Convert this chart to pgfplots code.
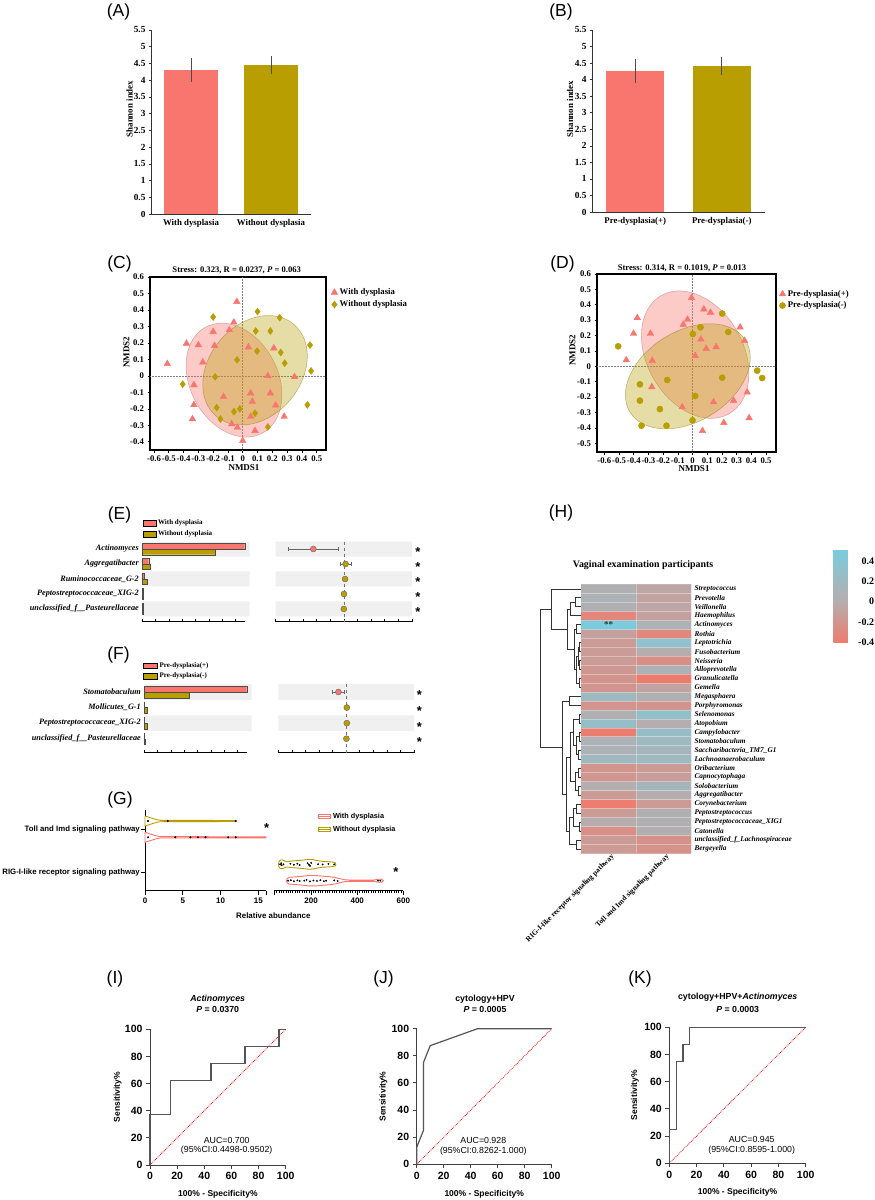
\documentclass[border=0pt]{standalone}
\usepackage{fontspec}
\setmainfont{Liberation Serif}
\setsansfont{Liberation Sans}
\usepackage{pgfplots}
\pgfplotsset{compat=1.18}
\usetikzlibrary{calc}
\definecolor{cred}{HTML}{F8766D}
\definecolor{cgold}{HTML}{B89E00}
\definecolor{band}{HTML}{F0F0F0}
\definecolor{roc}{HTML}{555555}
\newcommand{\fs}[1]{\fontsize{#1}{#1}\selectfont}
\tikzset{star/.style={font=\sffamily\bfseries\fs{13}, yshift=-3.5pt}}
\pgfplotsset{/pgf/number format/assume math mode=true,
  dg/.style={black!80, line width=0.55pt, forget plot},
  rocaxis/.style={anchor=south west, scale only axis, xmin=0, xmax=100, ymin=0, ymax=100,
    axis lines*=left, axis line style={line width=1pt, black!75},
    xtick={0,20,40,60,80,100}, ytick={0,20,40,60,80,100},
    tick align=outside, major tick length=4pt, tick style={line width=1pt, black!75},
    tick label style={font=\sffamily\bfseries\fs{10.5}}, clip=false},
  nmds/.style={anchor=south west, scale only axis, axis line style={line width=1.1pt},
    xtick={-0.6,-0.5,-0.4,-0.3,-0.2,-0.1,0,0.1,0.2,0.3,0.4,0.5},
    tick pos=left, tick align=outside, major tick length=2.5pt,
    tick style={line width=0.6pt, black}, tick label style={font=\bfseries\fs{8.7}},
    xticklabel style={inner xsep=0pt}},
  shannon/.style={anchor=south west, scale only axis, ymin=0, ymax=5.5, xmin=-0.5, xmax=1.5,
    axis x line*=bottom, axis y line*=left, axis line style={line width=0.9pt, black!80},
    xtick={0,1}, xtick style={draw=none},
    ytick={0,0.5,1,1.5,2,2.5,3,3.5,4,4.5,5,5.5},
    ytick style={line width=0.6pt, black!80}, tick align=outside, major tick length=2pt,
    yticklabel style={font=\bfseries\fs{9.3}}, xticklabel style={font=\bfseries\fs{8.8}}},
  barl/.style={anchor=south west, scale only axis, xmin=0,
    axis x line*=bottom, axis y line*=left, y axis line style={draw=none},
    x axis line style={line width=0.9pt}, xtick={0,1,2,3,4,5,6,7}, xticklabels={},
    tick align=inside, major tick length=2.5pt, xtick style={line width=0.5pt, black},
    ytick style={draw=none}, yticklabel style={font=\bfseries\itshape\fs{8.2}}, clip=false},
  barr/.style={anchor=south west, scale only axis, xmin=-5, xmax=5,
    axis x line*=bottom, axis y line=none, x axis line style={line width=0.9pt},
    xtick={-5,-4,-3,-2,-1,0,1,2,3,4,5}, xticklabels={}, tick align=inside, major tick length=2.5pt,
    xtick style={line width=0.5pt, black}, clip=false},
  ebar/.style={only marks, mark=*, mark size=3pt,
    error bars/x dir=both, error bars/x explicit, error bars/error bar style={black!60, line width=0.5pt},
    error bars/error mark options={rotate=90, mark size=2.2pt, black!60}}
}
\begin{document}
\begin{tikzpicture}
\useasboundingbox (0,0) rectangle (875pt,-1200pt);
\fill[white] (0,0) rectangle (875pt,-1200pt);

% ---------- panel letters ----------
\begin{scope}[every node/.style={font=\sffamily\fs{17.5}}]
\node at (118.5pt,-12pt) {(A)};
\node at (561pt,-12pt) {(B)};
\node at (119.5pt,-263.5pt) {(C)};
\node at (562.5pt,-263.5pt) {(D)};
\node at (119.5pt,-514.5pt) {(E)};
\node at (118.5pt,-655pt) {(F)};
\node at (120pt,-799.5pt) {(G)};
\node at (561pt,-512.5pt) {(H)};
\node at (115pt,-978.5pt) {(I)};
\node at (383.5pt,-979pt) {(J)};
\node at (640pt,-978.5pt) {(K)};
\end{scope}

% ---------- A ----------
\begin{axis}[shannon, at={(151pt,-214pt)}, width=160pt, height=184pt,
  xticklabels={With dysplasia,Without dysplasia}]
\addplot[ybar, bar shift=0pt, bar width=54pt, fill=cred, draw=none,
  error bars/.cd, y dir=both, y explicit, error mark=none,
  error bar style={line width=0.6pt, black!70}] coordinates {(0,4.3) +- (0,0.36)};
\addplot[ybar, bar shift=0pt, bar width=54pt, fill=cgold, draw=none,
  error bars/.cd, y dir=both, y explicit, error mark=none,
  error bar style={line width=0.6pt, black!70}] coordinates {(1,4.45) +- (0,0.27)};
\end{axis}
\node[rotate=90, font=\bfseries\fs{8.9}] at (129.5pt,-109pt) {Shannon index};

% ---------- B ----------
\begin{axis}[shannon, at={(592pt,-212pt)}, width=173pt, height=182pt,
  xticklabels={Pre-dysplasia(+),Pre-dysplasia(-)}]
\addplot[ybar, bar shift=0pt, bar width=58pt, fill=cred, draw=none,
  error bars/.cd, y dir=both, y explicit, error mark=none,
  error bar style={line width=0.6pt, black!70}] coordinates {(0,4.27) +- (0,0.36)};
\addplot[ybar, bar shift=0pt, bar width=58pt, fill=cgold, draw=none,
  error bars/.cd, y dir=both, y explicit, error mark=none,
  error bar style={line width=0.6pt, black!70}] coordinates {(1,4.42) +- (0,0.27)};
\end{axis}
\node[rotate=90, font=\bfseries\fs{8.9}] at (570pt,-109pt) {Shannon index};

% ---------- C ----------
\begin{axis}[nmds, at={(150pt,-450pt)}, width=176pt, height=173pt,
  xmin=-0.627, xmax=0.563, ymin=-0.45, ymax=0.6,
  ytick={-0.4,-0.3,-0.2,-0.1,0,0.1,0.2,0.3,0.4,0.5,0.6},
  legend style={at={(1.028,0.945)}, anchor=north west, draw=none, fill=none,
    font=\bfseries\fs{8.7}, legend cell align=left, row sep=0.5pt, inner sep=0pt},
  legend image code/.code={\draw[#1] plot coordinates {(3pt,0pt)};}]
\addplot[gray, densely dotted, line width=0.5pt, forget plot] coordinates {(0,-0.45)(0,0.6)};
\addplot[gray, densely dotted, line width=0.5pt, forget plot] coordinates {(-0.627,0)(0.563,0)};
\draw[fill=cred, fill opacity=0.38, draw=cred!70!black, draw opacity=0.45, line width=0.5pt,
  rotate around={28:(axis cs:-0.059,-0.026)}] (axis cs:-0.059,-0.026) ellipse [x radius=0.297, y radius=0.365];
\draw[fill=cgold, fill opacity=0.35, draw=cgold!70!black, draw opacity=0.5, line width=0.5pt,
  rotate around={-40:(axis cs:0.083,0.034)}] (axis cs:0.083,0.034) ellipse [x radius=0.311, y radius=0.365];
\addplot[only marks, mark=triangle*, mark size=3.8pt, mark options={fill=cred, draw=cred}] coordinates {
(-0.04,0.45)(-0.06,0.325)(-0.09,0.278)(-0.2,0.268)(-0.38,0.197)(-0.3,0.187)(-0.19,0.183)(-0.27,0.083)(-0.51,0.073)(-0.33,-0.055)(-0.33,-0.176)(-0.34,-0.262)(-0.13,-0.126)(-0.075,-0.292)(-0.036,-0.314)(0,-0.394)(0.038,0.174)(0.21,0.168)(0.17,0)(0.35,-0.006)(0.054,-0.105)(0.187,-0.105)(0.065,-0.156)(0.223,-0.178)(0.054,-0.247)(0.28,-0.247)(0.083,-0.333)};
\addplot[only marks, mark=diamond*, mark size=3.5pt, mark options={fill=cgold, draw=cgold}] coordinates {
(-0.2,0.357)(0.1,0.39)(0.25,0.353)(0.088,0.272)(0.187,0.272)(0.455,0.187)(0.097,0.15)(0.257,0.142)(0.284,0.077)(-0.038,0.097)(0.462,0.03)(-0.187,-0.006)(-0.406,-0.05)(-0.176,-0.193)(-0.059,-0.217)(-0.02,-0.2)(0.083,-0.227)(-0.151,-0.262)(0.17,-0.31)(0.437,-0.176)};
\legend{With dysplasia, Without dysplasia}
\end{axis}
\node[font=\bfseries\fs{8.6}] at (236.7pt,-270.7pt) {Stress: 0.323, R = 0.0237, \textit{P} = 0.063};
\node[rotate=90, font=\bfseries\fs{9}] at (126.5pt,-352pt) {NMDS2};
\node[font=\bfseries\fs{9}] at (244pt,-468pt) {NMDS1};

% ---------- D ----------
\begin{axis}[nmds, at={(597pt,-452pt)}, width=179pt, height=178pt,
  xmin=-0.65, xmax=0.568, ymin=-0.557, ymax=0.6,
  ytick={-0.5,-0.4,-0.3,-0.2,-0.1,0,0.1,0.2,0.3,0.4,0.5,0.6},
  legend style={at={(1.017,0.921)}, anchor=north west, draw=none, fill=none,
    font=\bfseries\fs{8.7}, legend cell align=left, row sep=0pt, inner sep=0pt},
  legend image code/.code={\draw[#1] plot coordinates {(3pt,0pt)};}]
\addplot[gray, densely dotted, line width=0.5pt, forget plot] coordinates {(0,-0.557)(0,0.6)};
\addplot[gray, densely dotted, line width=0.5pt, forget plot] coordinates {(-0.65,0)(0.568,0)};
\draw[fill=cred, fill opacity=0.38, draw=cred!70!black, draw opacity=0.45, line width=0.5pt,
  rotate around={30:(axis cs:0.018,0.076)}] (axis cs:0.018,0.076) ellipse [x radius=0.327, y radius=0.443];
\draw[fill=cgold, fill opacity=0.35, draw=cgold!70!black, draw opacity=0.5, line width=0.5pt,
  rotate around={32:(axis cs:-0.032,-0.065)}] (axis cs:-0.032,-0.065) ellipse [x radius=0.463, y radius=0.293];
\addplot[only marks, mark=triangle*, mark size=3.8pt, mark options={fill=cred, draw=cred}] coordinates {
(-0.007,0.445)(0.077,0.371)(0.122,0.349)(-0.376,0.315)(-0.034,0.304)(-0.063,0.271)(-0.401,0.213)(-0.286,0.213)(0.324,0.254)(0.354,0.167)(0.057,0.176)(0.161,0.126)(0.093,0.115)(0.018,0.069)(-0.451,0.041)(-0.274,0.037)(-0.277,-0.134)(0.372,-0.169)(0.279,-0.223)(0.143,-0.232)(-0.07,-0.265)(0.385,-0.336)(0.213,-0.367)(0.068,-0.419)};
\addplot[only marks, mark=*, mark size=3.1pt, mark options={fill=cgold, draw=cgold}] coordinates {
(-0.506,0.13)(0.202,0.343)(0.054,0.254)(0.243,0.223)(0.002,0.21)(0.44,-0.028)(0.474,-0.076)(0.202,-0.074)(-0.172,-0.089)(-0.358,-0.117)(-0.358,-0.223)(0.018,-0.193)(-0.222,-0.278)(-0.347,-0.386)(-0.177,-0.386)(0,-0.351)};
\legend{Pre-dysplasia(+), Pre-dysplasia(-)}
\end{axis}
\node[font=\bfseries\fs{8.6}] at (682pt,-268.3pt) {Stress: 0.314, R = 0.1019, \textit{P} = 0.013};
\node[rotate=90, font=\bfseries\fs{9}] at (572.5pt,-350pt) {NMDS2};
\node[font=\bfseries\fs{9}] at (694pt,-468.5pt) {NMDS1};

% ---------- E ----------
\begin{axis}[barl, at={(142.3pt,-621.7pt)}, width=102.7pt, height=80.2pt,
  xmax=7.7, ymin=-5.85, ymax=-0.5,
  ytick={-1,-2,-3,-4,-5},
  yticklabels={Actinomyces,Aggregatibacter,Ruminococcaceae\_G-2,Peptostreptococcaceae\_XIG-2,unclassified\_f\_\_Pasteurellaceae},
  legend style={at={(0.002,1.295)}, anchor=north west, draw=none, fill=none, inner sep=0pt,
    row sep=0.5pt, font=\bfseries\fs{7}, legend cell align=left},
  legend image code/.code={\fill[#1] (0pt,-2.8pt) rectangle (13pt,2.8pt);}]
\addplot[fill=band, draw=none, forget plot] coordinates {(0,-0.5)(8.05,-0.5)(8.05,-1.5)(0,-1.5)(0,-0.5)};
\addplot[fill=band, draw=none, forget plot] coordinates {(0,-2.5)(8.05,-2.5)(8.05,-3.5)(0,-3.5)(0,-2.5)};
\addplot[fill=band, draw=none, forget plot] coordinates {(0,-4.5)(8.05,-4.5)(8.05,-5.5)(0,-5.5)(0,-4.5)};
\addplot[forget plot, xbar, bar shift=0pt, bar width=5.7pt, fill=cred, draw=black!70, line width=0.4pt] coordinates {(7.68,-0.81)(0.48,-1.81)(0.15,-2.81)(0.03,-3.81)(0.03,-4.81)};
\addplot[forget plot, xbar, bar shift=0pt, bar width=5.7pt, fill=cgold, draw=black!70, line width=0.4pt] coordinates {(5.48,-1.19)(0.6,-2.19)(0.35,-3.19)(0.03,-4.19)(0.03,-5.19)};
\addlegendimage{fill=cred}\addlegendentry{With dysplasia}
\addlegendimage{fill=cgold}\addlegendentry{Without dysplasia}
\end{axis}
\begin{axis}[barr, at={(275.7pt,-621.7pt)}, width=136.3pt, height=80.2pt, ymin=-5.85, ymax=-0.5]
\addplot[fill=band, draw=none] coordinates {(-5,-0.5)(5,-0.5)(5,-1.5)(-5,-1.5)(-5,-0.5)};
\addplot[fill=band, draw=none] coordinates {(-5,-2.5)(5,-2.5)(5,-3.5)(-5,-3.5)(-5,-2.5)};
\addplot[fill=band, draw=none] coordinates {(-5,-4.5)(5,-4.5)(5,-5.5)(-5,-5.5)(-5,-4.5)};
\addplot[black!55, dashed, line width=0.5pt] coordinates {(0,-0.5)(0,-5.85)};
\addplot[ebar, mark options={fill=cred, draw=black!60, line width=0.4pt}] coordinates {(-2.24,-1) +- (1.85,0)};
\addplot[ebar, mark options={fill=cgold, draw=black!60, line width=0.4pt}] coordinates {(0.13,-2) +- (0.4,0) (0.09,-3) +- (0.1,0) (0.01,-4) +- (0.05,0) (0,-5) +- (0.05,0)};
\node[star] at (axis cs:5.44,-1) {*};
\node[star] at (axis cs:5.44,-2) {*};
\node[star] at (axis cs:5.44,-3) {*};
\node[star] at (axis cs:5.44,-4) {*};
\node[star] at (axis cs:5.44,-5) {*};
\end{axis}

% ---------- F ----------
\begin{axis}[barl, at={(144.3pt,-752.7pt)}, width=102.4pt, height=68.5pt,
  xmax=7.68, ymin=-4.9, ymax=-0.5,
  ytick={-1,-2,-3,-4},
  yticklabels={Stomatobaculum,Mollicutes\_G-1,Peptostreptococcaceae\_XIG-2,unclassified\_f\_\_Pasteurellaceae},
  legend style={at={(-0.013,1.346)}, anchor=north west, draw=none, fill=none, inner sep=0pt,
    row sep=0pt, font=\bfseries\fs{7}, legend cell align=left},
  legend image code/.code={\fill[#1] (0pt,-2.6pt) rectangle (14pt,2.6pt);}]
\addplot[fill=band, draw=none, forget plot] coordinates {(0,-0.5)(8.05,-0.5)(8.05,-1.5)(0,-1.5)(0,-0.5)};
\addplot[fill=band, draw=none, forget plot] coordinates {(0,-2.5)(8.05,-2.5)(8.05,-3.5)(0,-3.5)(0,-2.5)};
\addplot[forget plot, xbar, bar shift=0pt, bar width=5.8pt, fill=cred, draw=black!70, line width=0.4pt] coordinates {(7.68,-0.81)(0.02,-1.81)(0.02,-2.81)(0.02,-3.81)};
\addplot[forget plot, xbar, bar shift=0pt, bar width=5.8pt, fill=cgold, draw=black!70, line width=0.4pt] coordinates {(3.4,-1.19)(0.2,-2.19)(0.2,-3.19)(0.05,-4.19)};
\addlegendimage{fill=cred}\addlegendentry{Pre-dysplasia(+)}
\addlegendimage{fill=cgold}\addlegendentry{Pre-dysplasia(-)}
\end{axis}
\begin{axis}[barr, at={(278.3pt,-752.7pt)}, width=135.7pt, height=68.5pt, ymin=-4.9, ymax=-0.5]
\addplot[fill=band, draw=none] coordinates {(-5,-0.5)(5,-0.5)(5,-1.5)(-5,-1.5)(-5,-0.5)};
\addplot[fill=band, draw=none] coordinates {(-5,-2.5)(5,-2.5)(5,-3.5)(-5,-3.5)(-5,-2.5)};
\addplot[black!55, dashed, line width=0.5pt] coordinates {(0,-0.5)(0,-4.9)};
\addplot[ebar, mark options={fill=cred, draw=black!60, line width=0.4pt}] coordinates {(-0.57,-1) +- (0.43,0)};
\addplot[ebar, mark options={fill=cgold, draw=black!60, line width=0.4pt}] coordinates {(0.05,-2) +- (0.08,0) (0.05,-3) +- (0.08,0) (0.02,-4) +- (0.05,0)};
\node[star] at (axis cs:5.39,-1) {*};
\node[star] at (axis cs:5.39,-2) {*};
\node[star] at (axis cs:5.39,-3) {*};
\node[star] at (axis cs:5.39,-4) {*};
\end{axis}

% ---------- G ----------
\begin{axis}[at={(145pt,-890.7pt)}, anchor=south west, scale only axis, width=121pt, height=80.7pt,
  xmin=0, xmax=16, ymin=0, ymax=80.7, axis x line*=bottom, axis y line*=left,
  axis line style={line width=0.8pt},
  xtick={0,5,10,15}, extra x ticks={16}, extra x tick labels={},
  ytick={18,61.4}, yticklabels={RIG-I-like receptor signaling pathway,Toll and Imd signaling pathway},
  tick align=outside, major tick length=4pt, tick style={line width=0.8pt, black},
  xticklabel style={font=\sffamily\bfseries\fs{8}},
  yticklabel style={font=\sffamily\bfseries\fs{7.8}, inner xsep=1pt}, clip=false]
\addplot[draw=cgold, line width=0.9pt, fill=white] coordinates {(0,74.7)(0.5,73.5)(1,72.3)(1.5,71.1)(2,70.4)(12,70.2)(12,69.2)(2,69.0)(1.5,68.3)(1,67.1)(0.5,65.9)(0,64.7)(0,74.7)};
\addplot[draw=cred, line width=0.9pt, fill=white] coordinates {(0,58.4)(0.5,57.2)(1,56.0)(1.5,54.8)(2,54.1)(16,53.9)(16,52.9)(2,52.7)(1.5,52.0)(1,50.8)(0.5,49.6)(0,48.4)(0,58.4)};
\addplot[only marks, mark=*, mark size=0.8pt, black] coordinates {(0.4,69.7)(3,69.7)(12,69.7)(0.4,53.4)(4,53.4)(6,53.4)(7,53.4)(8,53.4)(11,53.4)(12,53.4)};
\end{axis}
\begin{axis}[at={(274.3pt,-890.7pt)}, anchor=south west, scale only axis, width=129pt, height=80.7pt,
  xmin=40, xmax=600, ymin=0, ymax=80.7, axis x line*=bottom, axis y line=none,
  axis line style={line width=0.8pt},
  xtick={200,400,600}, extra x ticks={40}, extra x tick labels={},
  minor xtick={50,60,...,590},
  tick align=outside, major tick length=4pt, minor tick length=2.2pt, tick style={line width=0.6pt, black},
  xticklabel style={font=\sffamily\bfseries\fs{8}}, clip=false,
  legend style={at={(0.339,0.988)}, anchor=north west, draw=none, fill=none, inner sep=0pt,
    row sep=2pt, font=\sffamily\bfseries\fs{7.3}, legend cell align=left},
  legend image code/.code={\draw[#1] (0pt,-1.8pt) rectangle (12pt,1.8pt); \draw[#1] (0pt,0pt) -- (12pt,0pt);}]
\addplot[forget plot, draw=cgold, line width=0.9pt, fill=white] coordinates {(58,26.4)(60,28.9)(66,30.6)(75,30.8)(84,29.9)(92,29.0)(100,29.2)(120,29.8)(145,30.2)(170,30.8)(190,31.4)(210,31.0)(230,30.0)(250,29.3)(275,29.0)(295,28.6)(305,27.9)(307,26.4)(305,24.9)(295,24.2)(275,23.8)(250,23.5)(230,22.8)(210,21.8)(190,21.4)(170,22.0)(145,22.6)(120,23.0)(100,23.6)(92,23.8)(84,22.9)(75,22.0)(66,22.2)(60,23.9)(58,26.4)};
\addplot[forget plot, draw=cred, line width=0.9pt, fill=white] coordinates {(93,10)(96,12.2)(105,13.4)(130,13.8)(160,14.4)(190,15.2)(220,15.2)(250,14.6)(280,14.0)(305,13.2)(325,12.0)(345,11.0)(370,10.6)(470,10.6)(490,11.4)(505,11.6)(514,10)(505,8.4)(490,8.6)(470,9.4)(370,9.4)(345,9.0)(325,8.0)(305,6.8)(280,6.0)(250,5.4)(220,4.8)(190,4.8)(160,5.6)(130,6.2)(105,6.6)(96,7.8)(93,10)};
\addplot[forget plot, only marks, mark=*, mark size=0.7pt, black] coordinates {(65,26.4)(70,27.5)(72,25.5)(80,26.4)(110,27)(125,26)(140,27)(150,25.8)(185,27.5)(190,26)(195,24.8)(200,27.8)(230,26.5)(250,26.2)(275,26.8)(300,26.4)
(100,10)(112,10.5)(125,9.5)(140,10.3)(150,9.7)(170,10)(180,10.8)(195,9.4)(210,10.2)(225,9.8)(240,10.5)(255,9.5)(265,10)(300,10.3)(315,9.7)(490,10)(500,10)};
\addlegendimage{draw=cred, line width=0.8pt}\addlegendentry{With dysplasia}
\addlegendimage{draw=cgold, line width=0.8pt}\addlegendentry{Without dysplasia}
\end{axis}
\node[font=\sffamily\bfseries\fs{13}] at (266.7pt,-828pt) {*};
\node[font=\sffamily\bfseries\fs{13}] at (396pt,-872pt) {*};
\node[font=\sffamily\bfseries\fs{7.9}] at (273.3pt,-916pt) {Relative abundance};

% ---------- H ----------
\node[font=\bfseries\fs{9.9}] at (643pt,-565pt) {Vaginal examination participants};
\begin{axis}[at={(581pt,-853.3pt)}, anchor=south west, scale only axis,
  width=110pt, height=269pt, xmin=-0.5, xmax=1.5, ymin=-30.5, ymax=-0.5,
  axis on top, axis line style={draw=none}, tick style={draw=none},
  minor xtick={0.5},
  minor ytick={-29.5,-28.5,-27.5,-26.5,-25.5,-24.5,-23.5,-22.5,-21.5,-20.5,-19.5,-18.5,-17.5,-16.5,-15.5,-14.5,-13.5,-12.5,-11.5,-10.5,-9.5,-8.5,-7.5,-6.5,-5.5,-4.5,-3.5,-2.5,-1.5},
  xminorgrids=true, yminorgrids=true,
  minor grid style={white, opacity=0.35, line width=0.5pt},
  xtick={0,1}, xticklabels={RIG-I-like receptor signaling pathway,Toll and Imd signaling pathway},
  xticklabel style={xshift=7pt, rotate=45, anchor=east, font=\bfseries\fs{7.4}},
  ytick={-30,-29,-28,-27,-26,-25,-24,-23,-22,-21,-20,-19,-18,-17,-16,-15,-14,-13,-12,-11,-10,-9,-8,-7,-6,-5,-4,-3,-2,-1},
  yticklabels={Bergeyella,unclassified\_f\_Lachnospiraceae,Catonella,Peptostreptococcaceae\_XIG1,Peptostreptococcus,Corynebacterium,Aggregatibacter,Solobacterium,Capnocytophaga,Oribacterium,Lachnoanaerobaculum,Saccharibacteria\_TM7\_G1,Stomatobaculum,Campylobacter,Atopobium,Selenomonas,Porphyromonas,Megasphaera,Gemella,Granulicatella,Alloprevotella,Neisseria,Fusobacterium,Leptotrichia,Rothia,Actinomyces,Haemophilus,Veillonella,Prevotella,Streptococcus},
  yticklabel pos=right,
  yticklabel style={font=\bfseries\itshape\fs{7.3}},
  colormap={hm}{rgb255(0pt)=(238,124,110); rgb255(40pt)=(182,173,174); rgb255(92pt)=(120,205,222)},
  point meta min=-0.4, point meta max=0.52,
  colorbar, colorbar style={at={($(parent axis.north east)+(134pt,35.3pt)$)}, anchor=north west,
    scale only axis, width=17pt, height=93pt, axis line style={draw=none},
    ytick={-0.4,-0.2,0,0.2,0.4}, major tick length=0pt, minor ytick={}, yminorgrids=false, xminorgrids=false,
    yticklabel style={font=\bfseries\fs{10}, anchor=east, xshift=27pt}}]
\addplot[matrix plot*, mesh/cols=2, point meta=explicit] table[meta=c] {
x y c
0 -30 -0.15
1 -30 -0.22
0 -29 -0.15
1 -29 -0.22
0 -28 -0.25
1 -28 0.03
0 -27 0.0
1 -27 0.05
0 -26 -0.15
1 -26 0.05
0 -25 -0.38
1 -25 -0.15
0 -24 -0.15
1 -24 0.0
0 -23 0.02
1 -23 0.15
0 -22 -0.18
1 -22 -0.12
0 -21 -0.2
1 -21 -0.15
0 -20 0.18
1 -20 0.2
0 -19 0.08
1 -19 0.15
0 -18 0.08
1 -18 0.2
0 -17 -0.38
1 -17 0.25
0 -16 0.28
1 -16 0.0
0 -15 0.05
1 -15 0.3
0 -14 -0.2
1 -14 -0.2
0 -13 0.2
1 -13 0.05
0 -12 -0.2
1 -12 -0.08
0 -11 -0.2
1 -11 -0.4
0 -10 -0.18
1 -10 0.08
0 -9 -0.15
1 -9 -0.25
0 -8 -0.15
1 -8 0.0
0 -7 -0.15
1 -7 0.32
0 -6 -0.1
1 -6 -0.3
0 -5 0.5
1 -5 0.08
0 -4 -0.32
1 -4 -0.1
0 -3 0.05
1 -3 -0.05
0 -2 0.08
1 -2 -0.08
0 -1 0.05
1 -1 -0.05
};
\node[font=\bfseries\fs{9}, text=black!80] at (axis cs:0,-5) {**};
\end{axis}
\begin{axis}[at={(539.3pt,-853.3pt)}, anchor=south west, scale only axis,
  width=41.7pt, height=269pt, xmin=28, xmax=153, ymin=-30.5, ymax=-0.5, hide axis, clip=false]
\addplot[dg] coordinates {(153,-2)(135,-2)(135,-3)(153,-3)};
\addplot[dg] coordinates {(135,-2.5)(120,-2.5)(120,-4)(153,-4)};
\addplot[dg] coordinates {(153,-5)(140,-5)(140,-6)(153,-6)};
\addplot[dg] coordinates {(153,-7)(148,-7)(148,-8)(153,-8)};
\addplot[dg] coordinates {(153,-9)(148,-9)(148,-10)(153,-10)};
\addplot[dg] coordinates {(153,-11)(148,-11)(148,-12)(153,-12)};
\addplot[dg] coordinates {(148,-7.5)(144,-7.5)(144,-9.5)(148,-9.5)};
\addplot[dg] coordinates {(144,-8.5)(140,-8.5)(140,-11.5)(148,-11.5)};
\addplot[dg] coordinates {(140,-5.5)(132,-5.5)(132,-10)(140,-10)};
\addplot[dg] coordinates {(120,-3.25)(112,-3.25)(112,-7.75)(132,-7.75)};
\addplot[dg] coordinates {(153,-1)(65,-1)(65,-5.5)(112,-5.5)};
\addplot[dg] coordinates {(153,-13)(118,-13)(118,-14)(153,-14)};
\addplot[dg] coordinates {(153,-15)(148,-15)(148,-16)(153,-16)};
\addplot[dg] coordinates {(153,-17)(148,-17)(148,-18)(153,-18)};
\addplot[dg] coordinates {(153,-19)(145,-19)(145,-20)(153,-20)};
\addplot[dg] coordinates {(148,-17.5)(140,-17.5)(140,-19.5)(145,-19.5)};
\addplot[dg] coordinates {(148,-15.5)(130,-15.5)(130,-18.5)(140,-18.5)};
\addplot[dg] coordinates {(153,-21)(145,-21)(145,-22)(153,-22)};
\addplot[dg] coordinates {(153,-23)(145,-23)(145,-24)(153,-24)};
\addplot[dg] coordinates {(145,-21.5)(135,-21.5)(135,-23.5)(145,-23.5)};
\addplot[dg] coordinates {(130,-17)(120,-17)(120,-22.5)(135,-22.5)};
\addplot[dg] coordinates {(153,-25)(140,-25)(140,-26)(153,-26)};
\addplot[dg] coordinates {(153,-27)(148,-27)(148,-28)(153,-28)};
\addplot[dg] coordinates {(140,-25.5)(130,-25.5)(130,-27.5)(148,-27.5)};
\addplot[dg] coordinates {(153,-29)(140,-29)(140,-30)(153,-30)};
\addplot[dg] coordinates {(130,-26.5)(118,-26.5)(118,-29.5)(140,-29.5)};
\addplot[dg] coordinates {(120,-19.75)(108,-19.75)(108,-28)(118,-28)};
\addplot[dg] coordinates {(118,-13.5)(98,-13.5)(98,-23.875)(108,-23.875)};
\addplot[dg] coordinates {(65,-3.25)(30,-3.25)(30,-18.69)(98,-18.69)};
\end{axis}

% ---------- I ----------
\begin{axis}[rocaxis, at={(150pt,-1165pt)}, width=135.7pt, height=135.7pt]
\addplot[red, densely dotted, line width=0.8pt] coordinates {(0,0)(100,100)};
\addplot[roc, line width=1.2pt] coordinates {(0,0)(0,37.5)(15,37.5)(15,62.5)(45,62.5)(45,75)(70,75)(70,87.5)(95,87.5)(95,100)(100,100)};
\end{axis}
\node[font=\sffamily\bfseries\fs{8.8}] at (217.7pt,-999.3pt) {\textit{Actinomyces}};
\node[font=\sffamily\bfseries\fs{8.8}] at (217.7pt,-1009.3pt) {\textit{P} = 0.0370};
\node[font=\sffamily\fs{8.8}] at (226.7pt,-1140pt) {AUC=0.700};
\node[font=\sffamily\fs{8.8}] at (226.7pt,-1150.7pt) {(95\%CI:0.4498-0.9502)};
\node[rotate=90, font=\sffamily\bfseries\fs{8.5}] at (117.7pt,-1097pt) {Sensitivity\%};
\node[font=\sffamily\bfseries\fs{8.5}] at (217.9pt,-1194pt) {100\% - Specificity\%};

% ---------- J ----------
\begin{axis}[rocaxis, at={(416.7pt,-1164.3pt)}, width=135pt, height=135.6pt]
\addplot[red, densely dotted, line width=0.8pt] coordinates {(0,0)(100,100)};
\addplot[roc, line width=1.2pt] coordinates {(0,0)(0,12.5)(5,25)(5,75)(10,87.5)(45,100)(100,100)};
\end{axis}
\node[font=\sffamily\bfseries\fs{8.8}] at (485pt,-999.3pt) {cytology+HPV};
\node[font=\sffamily\bfseries\fs{8.8}] at (485pt,-1009.3pt) {\textit{P} = 0.0005};
\node[font=\sffamily\fs{8.8}] at (483.3pt,-1140pt) {AUC=0.928};
\node[font=\sffamily\fs{8.8}] at (483.3pt,-1151pt) {(95\%CI:0.8262-1.000)};
\node[rotate=90, font=\sffamily\bfseries\fs{8.5}] at (383.3pt,-1096.5pt) {Sensitivity\%};
\node[font=\sffamily\bfseries\fs{8.5}] at (484.2pt,-1194.3pt) {100\% - Specificity\%};

% ---------- K ----------
\begin{axis}[rocaxis, at={(669.3pt,-1163.3pt)}, width=136.4pt, height=136pt]
\addplot[red, densely dotted, line width=0.8pt] coordinates {(0,0)(100,100)};
\addplot[roc, line width=1.2pt] coordinates {(0,0)(0,25)(5,25)(5,75)(10,75)(10,87.5)(15,87.5)(15,100)(100,100)};
\end{axis}
\node[font=\sffamily\bfseries\fs{8.8}] at (737.7pt,-997pt) {cytology+HPV+\textit{Actinomyces}};
\node[font=\sffamily\bfseries\fs{8.8}] at (737.7pt,-1009.3pt) {\textit{P} = 0.0003};
\node[font=\sffamily\fs{8.8}] at (751.7pt,-1139.3pt) {AUC=0.945};
\node[font=\sffamily\fs{8.8}] at (751.7pt,-1150.7pt) {(95\%CI:0.8595-1.000)};
\node[rotate=90, font=\sffamily\bfseries\fs{8.5}] at (635pt,-1095.3pt) {Sensitivity\%};
\node[font=\sffamily\bfseries\fs{8.5}] at (737.5pt,-1192.3pt) {100\% - Specificity\%};

\end{tikzpicture}
\end{document}
